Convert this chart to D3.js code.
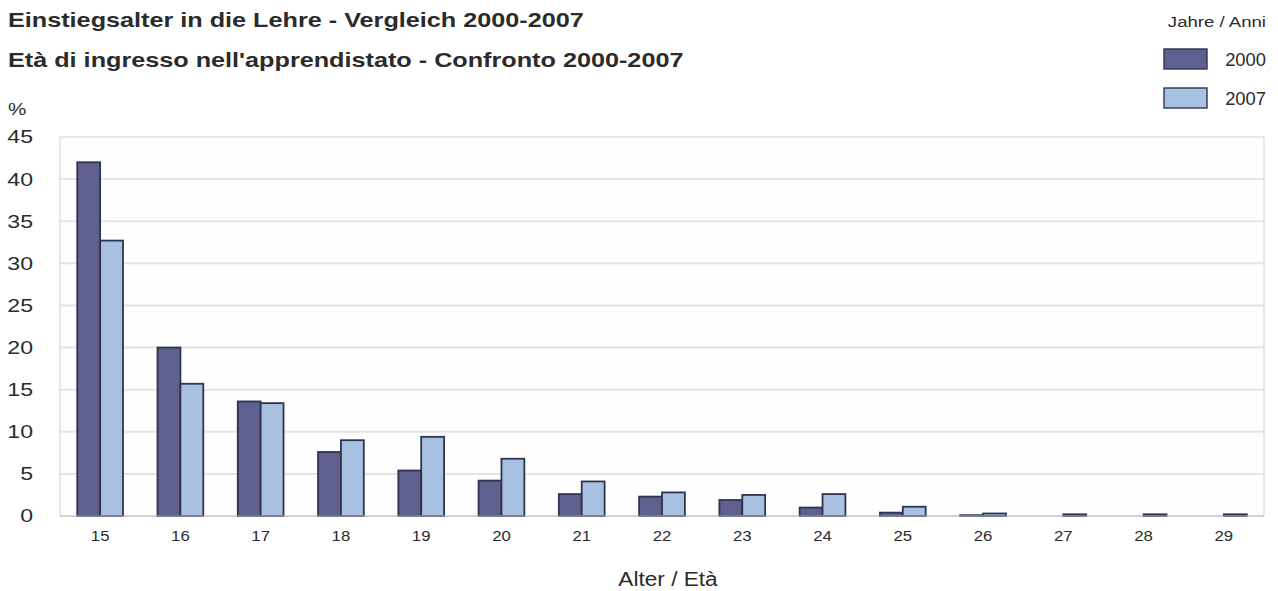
<!DOCTYPE html>
<html>
<head>
<meta charset="utf-8">
<script src="https://cdn.jsdelivr.net/npm/d3@7"></script>
<style>
  body { margin: 0; background: #fff; }
  text { font-family: "Liberation Sans", Arial, sans-serif; fill: #2b2b2b; }
</style>
</head>
<body>
<svg width="1278" height="591"></svg>
<script>
const ages = ["15","16","17","18","19","20","21","22","23","24","25","26","27","28","29"]
const years = ["2000","2007"]
const values2000 = [42.0, 20.0, 13.6, 7.6, 5.4, 4.2, 2.6, 2.3, 1.9, 1.0, 0.4, 0.1, 0, 0, 0]
const values2007 = [32.7, 15.7, 13.4, 9.0, 9.4, 6.8, 4.1, 2.8, 2.5, 2.6, 1.1, 0.3, 0.2, 0.2, 0.2]
const yTicks = [0, 5, 10, 15, 20, 25, 30, 35, 40, 45]
const colors = {"2000": "#5f608f", "2007": "#a9c1e1"}

const svg = d3.select("svg")
const plotLeft = 60, plotRight = 1264, plotTop = 137, plotBottom = 516

// source image is a bit stretched sideways, so text gets a horizontal scale
function label(x, y, txt, size, k, opts = {}) {
  return svg.append("text")
    .attr("transform", `translate(${x},${y}) scale(${k},1)`)
    .attr("text-anchor", opts.anchor || "start")
    .style("font-size", size + "px")
    .style("font-weight", opts.bold ? "bold" : "normal")
    .text(txt)
}

const x0 = d3.scaleBand().domain(ages).range([plotLeft, plotRight]).paddingInner(0.43).paddingOuter(0.215)
const x1 = d3.scaleBand().domain(years).range([0, x0.bandwidth()])
const y = d3.scaleLinear().domain([0, 45]).range([plotBottom, plotTop])

// plot frame + grid
svg.append("rect")
  .attr("x", plotLeft).attr("y", plotTop).attr("width", plotRight - plotLeft).attr("height", plotBottom - plotTop)
  .attr("fill", "#fefefe").attr("stroke", "#d8d8d8").attr("stroke-width", 1.2)

svg.append("g").selectAll("line")
  .data(yTicks.filter(d => d > 0 && d < 45))
  .join("line")
  .attr("x1", plotLeft).attr("x2", plotRight)
  .attr("y1", d => y(d)).attr("y2", d => y(d))
  .attr("stroke", "#e4e4e4").attr("stroke-width", 2)

// y axis labels
const ky = 1.25
const yAxis = svg.append("g")
  .attr("transform", `translate(${plotLeft},0)`)
  .call(d3.axisLeft(y).tickValues(yTicks).tickSize(0).tickPadding(27))
yAxis.select(".domain").remove()
yAxis.selectAll("text")
  .attr("x", -27 / ky).attr("transform", `scale(${ky},1)`)
  .style("font-size", "18.5px").style("fill", "#2b2b2b")

label(8, 115, "%", 16.5, 1.25)

// bars
const series = [values2000, values2007]
svg.append("g").selectAll("g")
  .data(ages.map((a, i) => ({age: a, vals: years.map((yr, k) => ({year: yr, v: series[k][i]}))})))
  .join("g")
  .attr("transform", d => `translate(${x0(d.age)},0)`)
  .selectAll("rect")
  .data(d => d.vals.filter(e => e.v > 0))
  .join("rect")
  .attr("x", d => x1(d.year))
  .attr("y", d => y(d.v))
  .attr("width", x1.bandwidth())
  .attr("height", d => plotBottom - y(d.v))
  .attr("fill", d => colors[d.year])
  .attr("stroke", "#2e3450").attr("stroke-width", 1.8)

// x axis
svg.append("line").attr("x1", plotLeft).attr("x2", plotRight).attr("y1", plotBottom).attr("y2", plotBottom)
  .attr("stroke", "#bbb").attr("stroke-width", 1.2)

const xAxis = svg.append("g")
  .attr("transform", `translate(0,${plotBottom})`)
  .call(d3.axisBottom(x0).tickSize(0).tickPadding(14))
xAxis.select(".domain").remove()
xAxis.selectAll("text").attr("transform", "scale(1.12,1)")
  .style("font-size", "15px").style("fill", "#2b2b2b")
xAxis.selectAll(".tick").attr("transform", d => `translate(${x0(d) + x0.bandwidth() / 2},0)`)

label(668, 586, "Alter / Età", 19.5, 1.16, {anchor: "middle"})

// titles
label(8, 27, "Einstiegsalter in die Lehre - Vergleich 2000-2007", 20.5, 1.23, {bold: true})
label(8, 67, "Età di ingresso nell'apprendistato - Confronto 2000-2007", 20.5, 1.23, {bold: true})

// legend
label(1266, 27, "Jahre / Anni", 15.5, 1.2, {anchor: "end"})
const lg = svg.append("g").selectAll("g").data(years).join("g")
  .attr("transform", (d, i) => `translate(1164,${49 + i * 39})`)
lg.append("rect").attr("width", 43).attr("height", 20)
  .attr("fill", d => colors[d]).attr("stroke", "#2e3450").attr("stroke-width", 1.4)
lg.append("text").attr("transform", "translate(102,17) scale(1.05,1)").attr("text-anchor", "end")
  .style("font-size", "17.5px").text(d => d)
</script>
</body>
</html>
